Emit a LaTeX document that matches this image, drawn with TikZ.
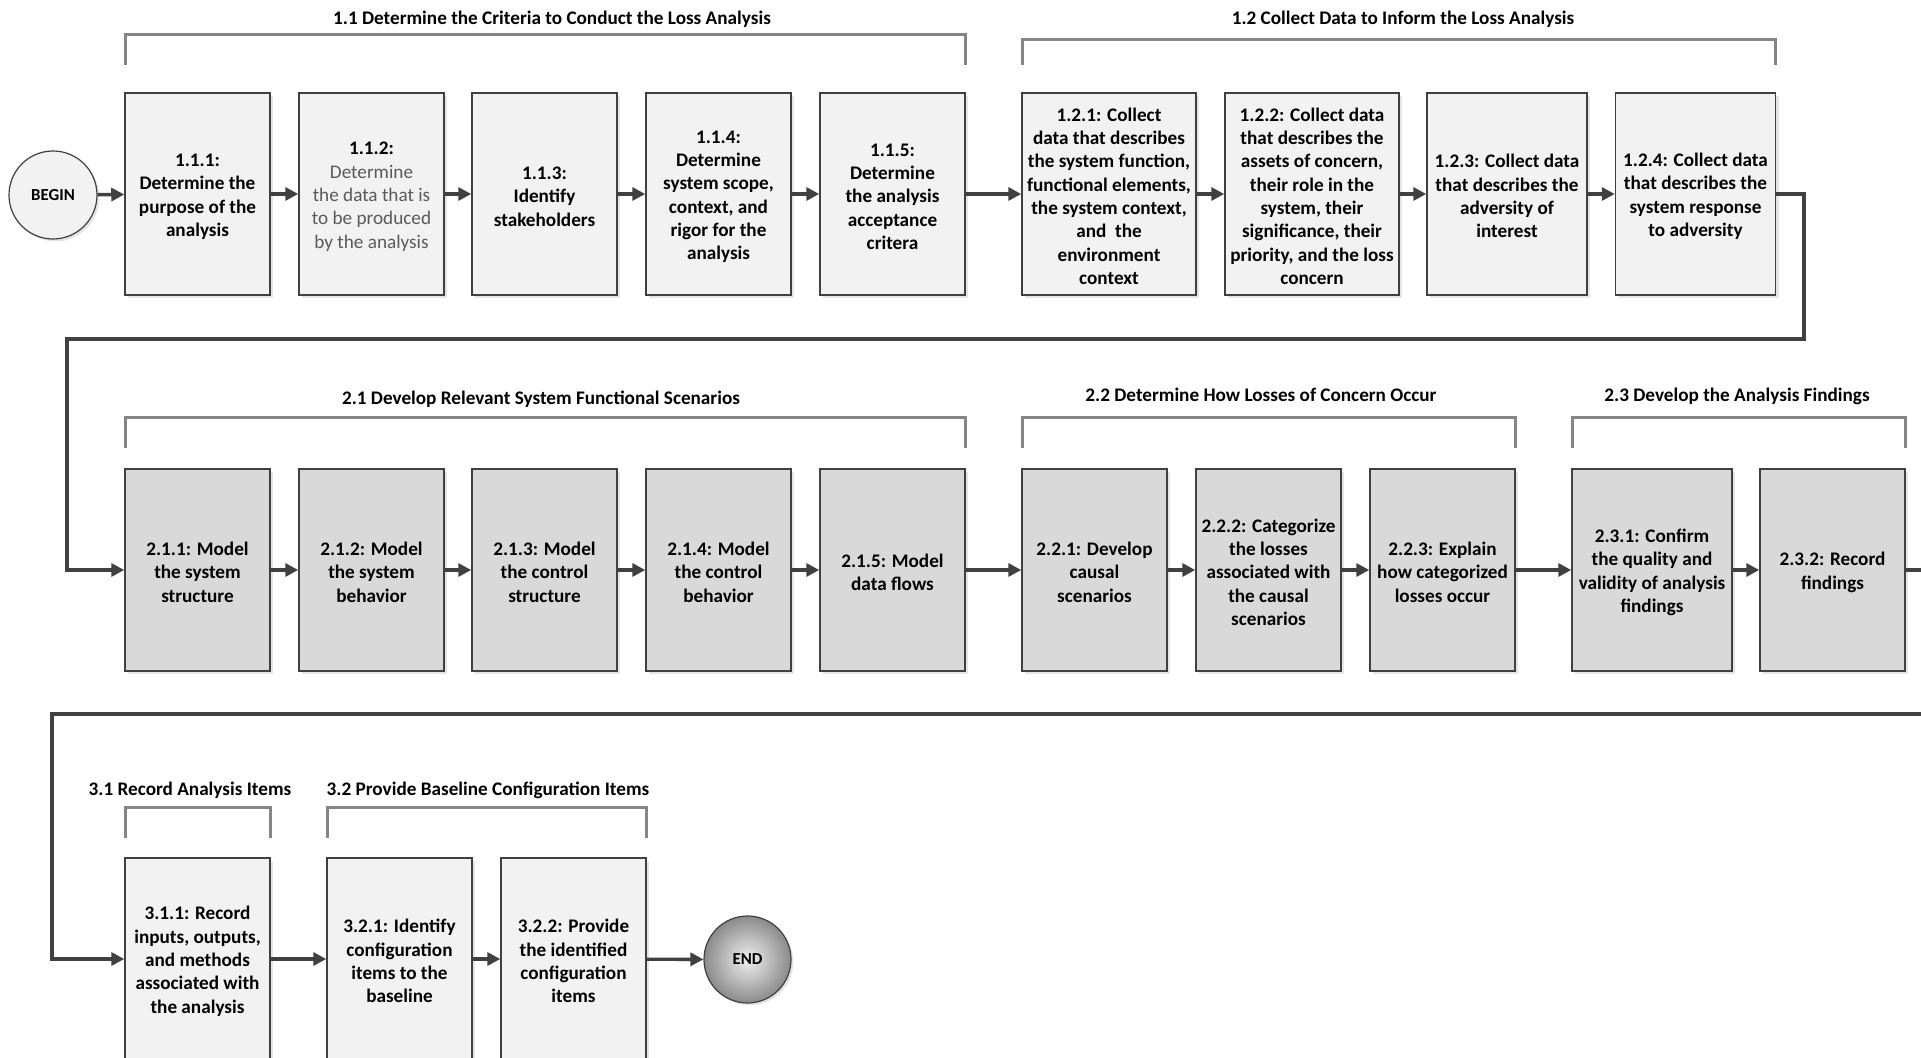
\documentclass[tikz,border=0pt]{standalone}
\usepackage{fontspec}
\setmainfont{Carlito}
\usetikzlibrary{arrows.meta,shadows}
\definecolor{lightbox}{HTML}{F2F2F2}
\definecolor{darkbox}{HTML}{D9D9D9}
\definecolor{boxline}{HTML}{404040}
\definecolor{connc}{HTML}{404040}
\definecolor{brackc}{HTML}{858585}
\definecolor{gtext}{HTML}{5A5A5A}
\definecolor{endin}{HTML}{F0F0F0}
\definecolor{endout}{HTML}{8A8A8A}
\newcommand{\tstrut}{\rule{0pt}{9pt}}
\begin{document}
\begin{tikzpicture}[x=0.5pt,y=-0.5pt,
  font=\fontsize{9.6pt}{11.65pt}\selectfont\bfseries,
  pbox/.style={rectangle, draw=boxline, line width=0.75pt, align=center, inner sep=0pt,
    minimum height=101pt, minimum width=72.5pt, fill=lightbox,
    drop shadow={shadow xshift=1.5pt,shadow yshift=-1.5pt,fill=black,opacity=0.10}},
  dbox/.style={pbox, fill=darkbox},
  wide/.style={minimum width=87pt},
  mid/.style={minimum width=80pt},
  conn/.style={draw=connc, line width=1.7pt, -{Triangle[length=6.5pt,width=6.5pt]}},
  brack/.style={draw=brackc, line width=1.5pt},
  ttl/.style={anchor=base, inner sep=0pt},
  term/.style={circle, draw=boxline, line width=0.6pt, inner sep=0pt, minimum size=44pt,
    drop shadow={shadow xshift=1.2pt,shadow yshift=-1.2pt,fill=black,opacity=0.10}}
]
\useasboundingbox (0,0) rectangle (1921,1058);
\clip (0,0) rectangle (1921,1058);
\fill[white] (0,0) rectangle (1921,1058);

% ---------- brackets ----------
\draw[brack] (125,65) -- (125,35) -- (965,35) -- (965,65);
\draw[brack] (1022,65) -- (1022,40) -- (1775,40) -- (1775,65);
\draw[brack] (125,448) -- (125,418) -- (965,418) -- (965,448);
\draw[brack] (1022,448) -- (1022,418) -- (1515,418) -- (1515,448);
\draw[brack] (1572,448) -- (1572,418) -- (1905,418) -- (1905,448);
\draw[brack] (125,838) -- (125,807) -- (270,807) -- (270,838);
\draw[brack] (327,838) -- (327,807) -- (646,807) -- (646,838);

% ---------- titles ----------
\node[ttl] (t11) at (552,24.5) {1.1 Determine the Criteria to Conduct the Loss Analysis};
\node[ttl] (t12) at (1403,24.5) {1.2 Collect Data to Inform the Loss Analysis};
\node[ttl] (t21) at (541,405) {2.1 Develop Relevant System Functional Scenarios};
\node[ttl] (t22) at (1261,401.5) {2.2 Determine How Losses of Concern Occur};
\node[ttl] (t23) at (1737,401.5) {2.3 Develop the Analysis Findings};
\node[ttl] (t31) at (190,795.5) {3.1 Record Analysis Items};
\node[ttl] (t32) at (488,795.5) {3.2 Provide Baseline Configuration Items};

% ---------- row 1 ----------
\node[term, fill=lightbox, minimum size=44pt] (begin) at (53,195) {\fontsize{8.4pt}{10pt}\selectfont BEGIN};
\node[pbox] (b111) at (197.5,194) {\tstrut 1.1.1:\\Determine the\\purpose of the\\analysis};
\node[pbox] (b112) at (371.5,194) {\tstrut 1.1.2:\\\textcolor{gtext}{\mdseries Determine}\\\textcolor{gtext}{\mdseries the data that is}\\\textcolor{gtext}{\mdseries to be produced}\\\textcolor{gtext}{\mdseries by the analysis}};
\node[pbox] (b113) at (544.5,194) {\tstrut 1.1.3:\\Identify\\stakeholders};
\node[pbox] (b114) at (718.5,194) {\tstrut 1.1.4:\\Determine\\system scope,\\context, and\\rigor for the\\analysis};
\node[pbox] (b115) at (892.5,194) {\tstrut 1.1.5:\\Determine\\the analysis\\acceptance\\critera};
\node[pbox, wide] (b121) at (1109,194) {\tstrut 1.2.1: Collect\\data that describes\\the system function,\\functional elements,\\the system context,\\and\ \ the\\environment\\context};
\node[pbox, wide] (b122) at (1312,194) {\tstrut 1.2.2: Collect data\\that describes the\\assets of concern,\\their role in the\\system, their\\significance, their\\priority, and the loss\\concern};
\node[pbox, mid] (b123) at (1507,194) {\tstrut 1.2.3: Collect data\\that describes the\\adversity of\\interest};
\node[pbox, mid] (b124) at (1695.5,194) {\tstrut 1.2.4: Collect data\\that describes the\\system response\\to adversity};

% ---------- row 2 ----------
\node[dbox] (b211) at (197.5,570) {\tstrut 2.1.1: Model\\the system\\structure};
\node[dbox] (b212) at (371.5,570) {\tstrut 2.1.2: Model\\the system\\behavior};
\node[dbox] (b213) at (544.5,570) {\tstrut 2.1.3: Model\\the control\\structure};
\node[dbox] (b214) at (718.5,570) {\tstrut 2.1.4: Model\\the control\\behavior};
\node[dbox] (b215) at (892.5,570) {\tstrut 2.1.5: Model\\data flows};
\node[dbox] (b221) at (1094.5,570) {\tstrut 2.2.1: Develop\\causal\\scenarios};
\node[dbox] (b222) at (1268.5,570) {\tstrut 2.2.2: Categorize\\the losses\\associated with\\the causal\\scenarios};
\node[dbox] (b223) at (1442.5,570) {\tstrut 2.2.3: Explain\\how categorized\\losses occur};
\node[dbox, mid] (b231) at (1652,570) {\tstrut 2.3.1: Confirm\\the quality and\\validity of analysis\\findings};
\node[dbox] (b232) at (1832.5,570) {\tstrut 2.3.2: Record\\findings};

% ---------- row 3 ----------
\node[pbox] (b311) at (197.5,959) {\tstrut 3.1.1: Record\\inputs, outputs,\\and methods\\associated with\\the analysis};
\node[pbox] (b321) at (399.5,959) {\tstrut 3.2.1: Identify\\configuration\\items to the\\baseline};
\node[pbox] (b322) at (573.5,959) {\tstrut 3.2.2: Provide\\the identified\\configuration\\items};
\node[term, shading=radial, inner color=endin, outer color=endout, minimum size=43.5pt] (end) at (747.5,959.5) {\fontsize{8.4pt}{10pt}\selectfont END};

% ---------- connectors ----------
\draw[conn] (begin) -- (b111);
\draw[conn] (b111) -- (b112);
\draw[conn] (b112) -- (b113);
\draw[conn] (b113) -- (b114);
\draw[conn] (b114) -- (b115);
\draw[conn] (b115) -- (b121);
\draw[conn] (b121) -- (b122);
\draw[conn] (b122) -- (b123);
\draw[conn] (b123) -- (b124);

\coordinate (r1a) at (1804,339);
\coordinate (r1b) at (67,339);
\draw[conn] (b124.east) -| (r1a) -- (r1b) |- (b211.west);

\draw[conn] (b211) -- (b212);
\draw[conn] (b212) -- (b213);
\draw[conn] (b213) -- (b214);
\draw[conn] (b214) -- (b215);
\draw[conn] (b215) -- (b221);
\draw[conn] (b221) -- (b222);
\draw[conn] (b222) -- (b223);
\draw[conn] (b223) -- (b231);
\draw[conn] (b231) -- (b232);

\coordinate (r2a) at (1950,714);
\coordinate (r2b) at (52,714);
\draw[conn] (b232.east) -| (r2a) -- (r2b) |- (b311.west);

\draw[conn] (b311) -- (b321);
\draw[conn] (b321) -- (b322);
\draw[conn] (b322) -- (end);
\end{tikzpicture}
\end{document}
